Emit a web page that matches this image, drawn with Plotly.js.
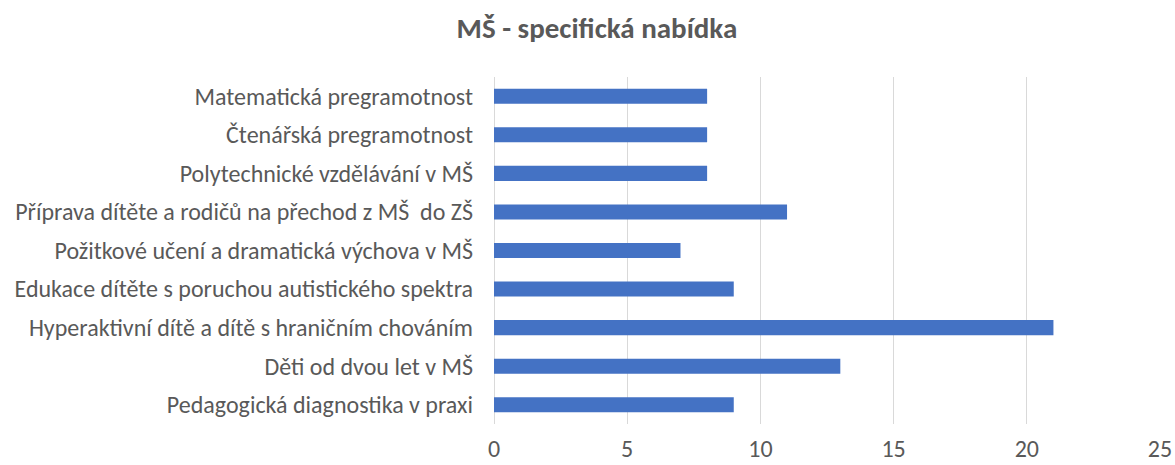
<!DOCTYPE html>
<html><head><meta charset="utf-8">
<script src="https://cdn.plot.ly/plotly-3.0.1.min.js"></script>
<style>html,body{margin:0;padding:0;background:#fff}#chart{width:1175px;height:465px}</style>
</head><body><div id="chart"></div>
<script>
const categories = [
  "Matematická pregramotnost",
  "Čtenářská pregramotnost",
  "Polytechnické vzdělávání v MŠ",
  "Příprava dítěte a rodičů na přechod z MŠ \u00a0do ZŠ",
  "Požitkové učení a dramatická výchova v MŠ",
  "Edukace dítěte s poruchou autistického spektra",
  "Hyperaktivní dítě a dítě s hraničním chováním",
  "Děti od dvou let v MŠ",
  "Pedagogická diagnostika v praxi"
];
const values = [8, 8, 8, 11, 7, 9, 21, 13, 9];
const xTicks = [0, 5, 10, 15, 20, 25];

const font = "Carlito, Calibri, sans-serif";
Plotly.newPlot('chart', [{
  type: 'bar', orientation: 'h', x: values, y: categories,
  marker: {color: '#4472C4'}, hoverinfo: 'x+y'
}], {
  width: 1175, height: 465,
  margin: {l: 494, r: 15, t: 77, b: 41},
  paper_bgcolor: '#fff', plot_bgcolor: '#fff',
  bargap: 0.61,
  title: {text: '<b>MŠ - specifická nabídka</b>', x: 0.508, xanchor: 'center', y: 0.94, yanchor: 'middle',
          font: {family: font, size: 29, color: '#595959'}},
  xaxis: {range: [0, 25], tickvals: xTicks, ticktext: xTicks.map(String), showgrid: true, gridcolor: '#d9d9d9',
          gridwidth: 1, zeroline: true, zerolinecolor: '#d9d9d9', zerolinewidth: 1, showline: false,
          ticks: '', ticklabelstandoff: 8, tickfont: {family: font, size: 24, color: '#595959'}, automargin: false, fixedrange: true},
  yaxis: {autorange: 'reversed', ticks: '', showline: false, ticklen: 0, ticklabelstandoff: 20,
          tickfont: {family: font, size: 24, color: '#595959'}, automargin: false, fixedrange: true},
  showlegend: false
}, {displayModeBar: false, staticPlot: true});
</script></body></html>
